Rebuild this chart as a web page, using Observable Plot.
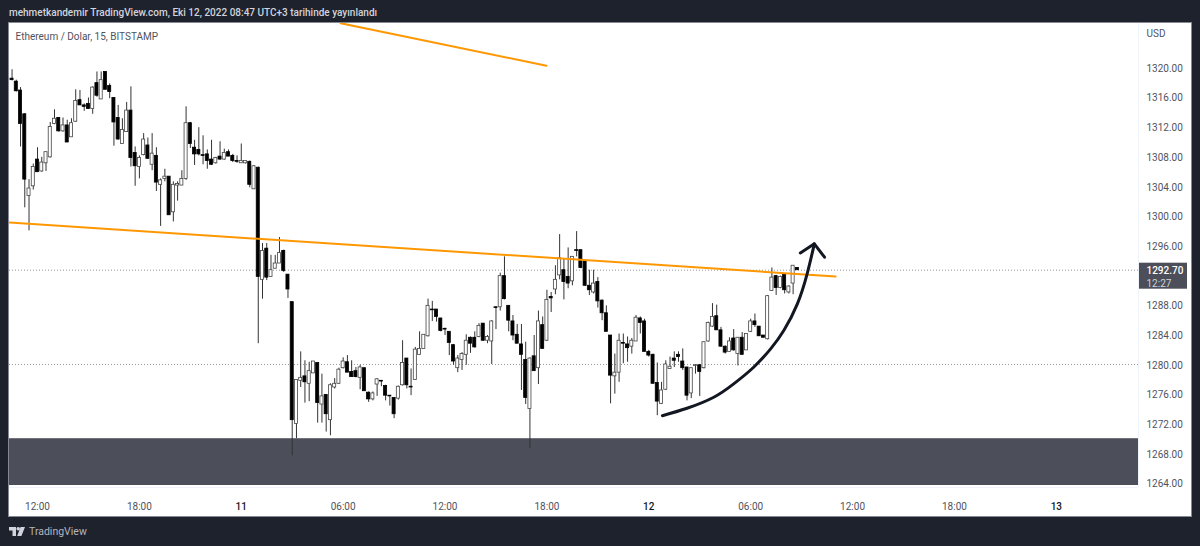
<!DOCTYPE html>
<html><head><meta charset="utf-8">
<script src="https://cdn.jsdelivr.net/npm/d3@7"></script>
<script src="https://cdn.jsdelivr.net/npm/@observablehq/plot@0.6"></script>
<style>
html,body{margin:0;padding:0;background:#1e222d;width:1200px;height:546px;overflow:hidden;font-family:Roboto,sans-serif}
#head{height:23px;line-height:25px;padding-left:9px;color:#d1d4dc;font-size:10px;font-weight:500;box-sizing:border-box;white-space:nowrap}
#chart{margin-left:9px;width:1182px;height:493px;box-shadow:0 0 0 1px #868993}
#chart svg{display:block}
#foot{display:flex;align-items:center;height:31px;padding-left:9px;color:#b2b5be;font-size:10.5px;gap:4px}
</style></head><body>
<div id="head">mehmetkandemir TradingView.com, Eki 12, 2022 08:47 UTC+3 tarihinde yayınlandı</div>
<div id="chart"></div>
<div id="foot"><svg width="16" height="9" viewBox="0 0 16 9"><path d="M0 0H7V9H3.5V3.4H0Z M11.5 0H16L12.4 9H8.2Z" fill="#d1d4dc"/><circle cx="9.2" cy="1.8" r="1.8" fill="#d1d4dc"/></svg><span>TradingView</span></div>
<script>
// 15-minute candles; the first one opens 2022-10-10 10:30 on the chart's clock
const firstCandle = Date.UTC(2022, 9, 10, 10, 30);
const step = 15 * 60 * 1000;
const opens = [
1318.5,1318.1,1316.9,1313.7,1302.7,1304.0,1307.6,1306.0,1307.1,1307.9,
1312.4,1313.2,1311.4,1312.2,1310.6,1312.7,1315.6,1314.9,1315.1,1314.4,
1317.9,1315.7,1319.4,1317.5,1315.9,1313.2,1309.7,1311.3,1314.2,1308.5,
1306.6,1308.2,1309.5,1306.9,1308.1,1304.2,1305.0,1305.3,1300.5,1304.1,
1304.1,1305.0,1312.5,1309.2,1308.9,1308.2,1308.3,1307.6,1307.1,1308.0,
1307.6,1308.6,1308.1,1307.4,1307.1,1307.1,1307.3,1303.6,1306.5,1291.4,
1295.6,1291.8,1292.9,1293.6,1295.3,1292.1,1288.4,1272.0,1277.8,1278.4,
1277.4,1278.8,1280.2,1274.6,1275.9,1272.5,1276.9,1277.4,1279.5,1280.3,
1279.0,1279.1,1278.2,1279.5,1276.2,1275.3,1277.3,1277.8,1277.1,1275.8,
1275.5,1275.4,1277.2,1280.8,1277.0,1277.9,1281.3,1282.1,1283.8,1287.4,
1287.4,1286.2,1284.8,1284.4,1282.6,1279.5,1280.6,1281.3,1283.6,1283.6,
1283.7,1285.5,1283.2,1283.1,1287.7,1287.7,1291.9,1287.9,1285.8,1284.0,
1282.7,1280.6,1274.0,1281.1,1279.5,1285.3,1283.2,1289.1,1290.1,1292.0,
1292.7,1291.8,1291.2,1295.4,1295.4,1294.0,1290.6,1289.7,1291.1,1288.6,
1286.9,1283.9,1278.4,1278.9,1282.9,1282.7,1282.4,1283.1,1286.2,1285.8,
1281.7,1281.3,1277.5,1274.7,1276.6,1279.4,1280.8,1281.3,1280.4,1279.6,
1276.1,1279.8,1279.9,1279.5,1283.1,1285.1,1286.5,1284.6,1282.4,1281.7,
1283.5,1281.4,1283.6,1281.9,1284.4,1285.8,1285.1,1283.9,1283.4,1289.9,
1291.9,1290.3,1292.1,1289.7,1290.9,1293.0];
const closes = [
1318.3,1316.8,1312.4,1304.9,1303.7,1306.6,1305.9,1307.2,1308.6,1312.0,
1313.1,1311.4,1312.2,1309.9,1312.5,1315.5,1314.9,1314.7,1314.4,1317.3,
1316.2,1318.3,1317.0,1316.7,1312.6,1310.3,1311.6,1314.2,1307.8,1306.7,
1307.8,1310.3,1307.7,1308.4,1304.5,1304.8,1305.3,1300.1,1304.2,1304.3,
1305.0,1312.5,1309.7,1308.3,1308.3,1308.1,1307.4,1306.9,1307.8,1307.6,
1308.5,1308.0,1307.4,1307.3,1307.4,1307.4,1304.2,1306.7,1291.8,1295.3,
1291.7,1292.7,1293.6,1295.0,1292.6,1290.1,1272.5,1277.9,1278.2,1277.6,
1279.1,1280.4,1274.8,1275.7,1273.3,1277.2,1277.4,1279.3,1280.4,1278.9,
1278.3,1278.3,1279.6,1276.4,1275.3,1276.1,1278.0,1277.7,1275.8,1275.7,
1273.3,1277.0,1280.2,1277.2,1276.9,1282.0,1282.1,1284.0,1287.9,1287.3,
1286.4,1284.5,1284.7,1282.9,1280.4,1280.8,1281.4,1283.2,1282.8,1282.3,
1285.2,1283.2,1283.7,1285.8,1287.6,1291.9,1288.8,1285.9,1283.9,1282.8,
1281.3,1275.5,1280.8,1279.1,1285.8,1282.1,1288.7,1288.9,1291.4,1294.3,
1291.1,1290.9,1294.5,1295.3,1293.0,1290.6,1290.0,1290.9,1288.5,1286.9,
1284.4,1278.5,1278.9,1283.2,1282.8,1282.2,1283.2,1286.3,1285.6,1281.7,
1281.2,1277.4,1275.0,1276.5,1280.0,1279.7,1280.5,1281.0,1279.5,1275.8,
1279.5,1279.9,1279.0,1283.0,1285.6,1286.4,1284.6,1282.4,1281.6,1283.1,
1281.9,1283.6,1281.3,1284.1,1285.8,1285.3,1283.8,1283.6,1289.2,1291.7,
1290.3,1291.8,1290.0,1290.5,1293.3,1292.7];
const highs = [
1319.7,1318.3,1317.3,1313.8,1304.9,1307.0,1309.2,1307.9,1308.6,1312.6,
1314.3,1313.2,1313.2,1312.9,1313.1,1317.0,1316.9,1315.1,1315.9,1317.4,
1319.4,1319.4,1319.4,1317.8,1315.9,1314.9,1313.1,1315.3,1317.4,1309.3,
1308.1,1311.1,1310.5,1311.1,1309.2,1305.0,1306.3,1305.3,1304.6,1304.6,
1306.1,1314.7,1312.6,1310.2,1311.9,1310.8,1308.9,1310.2,1307.9,1310.0,
1309.0,1308.9,1308.3,1308.1,1309.7,1307.4,1307.4,1306.8,1306.6,1296.3,
1296.3,1294.7,1294.7,1297.1,1295.4,1292.1,1288.4,1277.9,1281.7,1280.5,
1280.3,1280.4,1280.2,1278.7,1275.9,1277.4,1278.1,1279.5,1280.9,1281.2,
1280.5,1279.6,1279.9,1279.5,1276.3,1276.3,1278.1,1277.8,1277.2,1275.8,
1275.5,1277.1,1283.2,1280.8,1279.4,1282.3,1284.4,1284.0,1288.8,1288.5,
1287.4,1286.2,1284.9,1284.4,1282.7,1281.2,1281.6,1284.0,1283.7,1284.4,
1285.5,1285.5,1283.9,1285.9,1287.8,1292.3,1294.5,1287.9,1286.6,1285.4,
1285.4,1283.0,1280.9,1283.9,1287.2,1286.4,1290.0,1289.7,1293.3,1297.5,
1294.2,1295.7,1294.5,1297.9,1295.4,1294.0,1292.7,1292.7,1291.7,1288.7,
1287.9,1283.9,1281.4,1284.1,1284.1,1283.7,1283.5,1286.6,1286.4,1286.1,
1281.9,1281.4,1280.2,1277.6,1280.5,1281.0,1281.7,1281.7,1282.1,1279.6,
1279.5,1280.0,1280.0,1283.0,1285.7,1288.2,1288.0,1285.0,1282.5,1283.6,
1284.7,1283.6,1284.3,1284.1,1286.1,1286.8,1285.1,1283.9,1289.3,1293.0,
1292.0,1291.9,1292.1,1290.6,1293.3,1293.0];
const lows = [
1318.2,1316.7,1309.3,1301.1,1298.0,1303.5,1305.9,1305.9,1306.0,1307.8,
1312.3,1311.3,1311.3,1309.9,1310.6,1312.6,1314.9,1314.1,1314.4,1313.7,
1316.0,1315.7,1317.0,1315.8,1309.4,1310.2,1309.7,1311.3,1306.6,1304.0,
1305.0,1308.1,1307.7,1306.1,1303.3,1298.6,1304.6,1300.1,1299.2,1302.0,
1304.1,1304.8,1309.1,1306.8,1308.1,1306.9,1306.3,1306.8,1307.0,1307.5,
1307.5,1308.0,1307.2,1307.1,1307.1,1307.0,1303.8,1303.6,1282.8,1288.8,
1291.3,1291.8,1292.9,1293.6,1292.4,1288.9,1267.7,1270.0,1276.9,1274.8,
1275.0,1278.8,1272.1,1272.1,1270.9,1270.4,1276.7,1277.3,1279.4,1278.9,
1278.3,1278.2,1276.6,1276.4,1274.9,1275.1,1275.7,1277.0,1275.1,1274.4,
1272.7,1275.2,1277.1,1276.7,1275.8,1277.9,1281.3,1282.1,1283.7,1285.8,
1285.7,1284.4,1283.9,1281.2,1279.9,1278.9,1279.2,1279.9,1281.5,1282.2,
1283.6,1283.1,1282.8,1280.0,1284.7,1287.2,1288.7,1284.4,1283.2,1282.8,
1276.5,1274.6,1268.7,1279.1,1277.3,1282.1,1283.1,1287.0,1289.4,1291.4,
1288.7,1290.2,1290.6,1294.5,1292.9,1290.5,1289.3,1289.5,1287.6,1285.9,
1284.4,1274.7,1276.0,1277.6,1280.1,1280.3,1281.4,1283.1,1284.1,1281.7,
1281.0,1277.4,1273.1,1274.6,1276.5,1279.4,1279.6,1280.3,1279.2,1275.1,
1275.4,1278.7,1275.7,1279.4,1283.0,1285.0,1284.6,1282.3,1281.4,1281.7,
1281.8,1279.8,1281.3,1281.9,1284.3,1285.0,1283.8,1283.6,1283.3,1289.9,
1289.3,1290.2,1289.5,1289.5,1289.4,1292.7];

const candles = opens.map((o, i) => ({
  t: new Date(firstCandle + i * step), tA: new Date(firstCandle + (i - 0.36) * step), tB: new Date(firstCandle + (i + 0.36) * step),
  o, c: closes[i], h: highs[i], l: lows[i], up: closes[i] >= o
}));
const slot = s => new Date(firstCandle + s * step);   // s = candle count from the first candle

const priceTicks = [1264,1268,1272,1276,1280,1284,1288,1296,1300,1304,1308,1312,1316,1320];
const timeTicks = ["2022-10-10T12:00Z","2022-10-10T18:00Z","2022-10-11T06:00Z","2022-10-11T12:00Z","2022-10-11T18:00Z","2022-10-12T06:00Z","2022-10-12T12:00Z","2022-10-12T18:00Z"].map(d => new Date(d));
const dateTicks = ["2022-10-11T00:00Z","2022-10-12T00:00Z","2022-10-13T00:00Z"].map(d => new Date(d));
const lastPrice = 1292.70, lastCountdown = "12:27", quoteLevel = 1280;
const zoneTop = 1270.0, zoneBottom = 1263.7;

const trendSlots = [-0.6, 194], trendPrices = [1299.12, 1291.85];
const upperSlots = [77.4, 125.9], upperPrices = [1325.97, 1320.23];
const arrowSlots = [153.2,159.0,165.3,170.0,174.7,178.7,181.8,185.0,187.3,189];
const arrowPrices = [1273.1,1274.1,1275.59,1277.39,1279.63,1282.1,1284.57,1288.17,1292.21,1296.25];
const headSlots = [185.7,189,191.4], headPrices = [1295.03,1296.25,1294.45];
const pts = (a, b) => a.map((s, i) => ({t: slot(s), p: b[i]}));

const xDomain = [slot(-0.6), slot(265.36)];
const yDomain = [1263.43, 1325.93];

const tag = (index, {y}, channels, {width, marginRight}) => {
  const r = document.createElementNS("http://www.w3.org/2000/svg", "rect");
  r.setAttribute("x", width - marginRight + 1);
  r.setAttribute("width", 48);
  r.setAttribute("y", y(lastPrice) - 7);
  r.setAttribute("height", 26);
  r.setAttribute("fill", "#4c4e59");
  return r;
};

const grey = "#50535e";
const plot = Plot.plot({
  width: 1182, height: 493,
  marginLeft: 0, marginRight: 53, marginTop: 0, marginBottom: 29,
  style: {background: "#ffffff", fontFamily: "Roboto, sans-serif", fontSize: "10px", color: grey},
  x: {type: "utc", domain: xDomain},
  y: {domain: yDomain},
  marks: [
    Plot.rect([{}], {x1: () => xDomain[0], x2: () => xDomain[1], y1: () => zoneBottom, y2: () => zoneTop, fill: "#4c4e59"}),
    Plot.ruleY([lastPrice], {stroke: "#9598a1", strokeWidth: 1, strokeDasharray: "1,2"}),
    Plot.ruleY([quoteLevel], {stroke: "#9598a1", strokeWidth: 1, strokeDasharray: "1,2"}),
    Plot.ruleX([xDomain[1]], {stroke: "#f0f3fa"}),
    Plot.ruleY([yDomain[0]], {stroke: "#f0f3fa"}),
    Plot.ruleX(candles, {x: "t", y1: "l", y2: "h", stroke: "#333333", strokeWidth: 1}),
    Plot.rect(candles, {x1: "tA", x2: "tB", y1: "o", y2: "c",
      fill: d => d.up ? "#ffffff" : "#000000", stroke: d => d.up ? "#444444" : "#000000", strokeWidth: 0.8}),
    Plot.line(pts(trendSlots, trendPrices), {x: "t", y: "p", stroke: "#ff9800", strokeWidth: 2}),
    Plot.line(pts(upperSlots, upperPrices), {x: "t", y: "p", stroke: "#ff9800", strokeWidth: 2, clip: true}),
    Plot.line(pts(arrowSlots, arrowPrices), {x: "t", y: "p", stroke: "#131722", strokeWidth: 3, curve: "natural"}),
    Plot.line(pts(headSlots, headPrices), {x: "t", y: "p", stroke: "#131722", strokeWidth: 3}),
    Plot.axisY({anchor: "right", ticks: priceTicks, tickSize: 0, tickPadding: 8, dy: 1, tickFormat: d => d.toFixed(2), label: null, fill: grey}),
    Plot.axisX({anchor: "bottom", ticks: timeTicks, tickSize: 0, tickPadding: 15, tickFormat: d3.utcFormat("%H:%M"), label: null, fill: grey}),
    Plot.axisX({anchor: "bottom", ticks: dateTicks, tickSize: 0, tickPadding: 15, tickFormat: d3.utcFormat("%-d"), label: null, fill: "#131722", fontWeight: 500}),
    Plot.text(["Ethereum / Dolar, 15, BITSTAMP"], {frameAnchor: "top-left", dx: 6, dy: 9, fill: grey, textAnchor: "start", lineAnchor: "top", fontSize: 10}),
    Plot.text(["USD"], {frameAnchor: "top-right", dx: 8, dy: 6, fill: grey, textAnchor: "start", lineAnchor: "top", fontSize: 10}),
    tag,
    Plot.text([lastPrice], {y: d => d, text: d => d.toFixed(2), frameAnchor: "right", dx: 8, dy: 1, fill: "#ffffff", textAnchor: "start", fontSize: 10, fontWeight: 500}),
    Plot.text([lastCountdown], {y: () => lastPrice, frameAnchor: "right", dx: 8, dy: 14, fill: "#d1d4dc", textAnchor: "start", fontSize: 10})
  ]
});
document.getElementById("chart").append(plot);
</script>
</body></html>
